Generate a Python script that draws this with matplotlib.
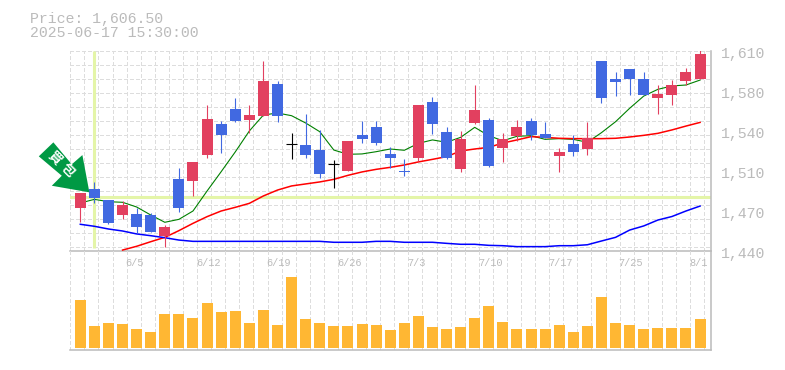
#!/usr/bin/env python

# DAILY CANDLES WITH MOVING AVERAGES AND VOLUME

import numpy as np
import matplotlib
matplotlib.use('Agg')
import matplotlib.pyplot as plt
from matplotlib.patches import Polygon
from matplotlib.transforms import IdentityTransform

plt.rcParams['font.family'] = ['Liberation Mono', 'DejaVu Sans Mono']

# CANDLES
opens = [1478.5, 1494.1, 1485.0, 1472.6, 1473.2, 1472.3, 1454.4, 1502.6, 1501.5, 1523.6,
         1549.7, 1562.4, 1553.1, 1556.7, 1583.7, 1532.4, 1531.8, 1527.5, 1515.4, 1509.7,
         1540.3, 1547.1, 1524.1, 1509.7, 1520.8, 1568.4, 1542.9, 1511.4, 1550.5, 1553.1,
         1529.3, 1539.5, 1552.2, 1541.1, 1522.5, 1532.7, 1528.4, 1603.2, 1587.9, 1596.4,
         1587.9, 1571.8, 1574.3, 1586.2, 1587.9]
closes = [1490.7, 1487.0, 1465.8, 1480.5, 1462.4, 1458.1, 1462.1, 1478.5, 1517.4, 1553.9,
          1540.5, 1552.5, 1557.3, 1586.2, 1556.7, 1532.4, 1523.3, 1507.2, 1515.4, 1535.2,
          1536.9, 1533.5, 1520.8, 1509.2, 1565.8, 1549.7, 1520.8, 1536.9, 1561.5, 1514.0,
          1536.9, 1547.1, 1540.3, 1537.8, 1525.9, 1525.9, 1537.8, 1571.8, 1585.4, 1587.9,
          1574.3, 1575.1, 1582.8, 1593.9, 1609.2]
highs = [1490.7, 1500.3, 1485.0, 1484.2, 1478.0, 1474.0, 1463.8, 1512.3, 1517.4, 1565.8,
         1552.2, 1571.8, 1565.8, 1603.2, 1586.2, 1542.0, 1558.2, 1544.5, 1519.0, 1535.2,
         1552.2, 1552.2, 1529.8, 1519.9, 1565.8, 1572.6, 1547.1, 1543.7, 1582.8, 1554.8,
         1542.0, 1553.1, 1554.8, 1551.4, 1529.3, 1540.3, 1551.4, 1603.2, 1593.9, 1596.4,
         1593.9, 1582.8, 1587.1, 1597.3, 1612.6]
lows = [1466.6, 1482.3, 1464.9, 1468.6, 1456.7, 1458.1, 1444.8, 1475.1, 1488.7, 1521.0,
        1525.3, 1551.6, 1542.0, 1556.7, 1551.6, 1519.9, 1521.0, 1503.8, 1495.3, 1509.7,
        1533.5, 1531.8, 1512.3, 1505.5, 1518.2, 1541.1, 1519.9, 1508.8, 1549.7, 1513.4,
        1517.4, 1535.2, 1536.0, 1537.8, 1508.8, 1522.5, 1523.3, 1567.8, 1573.4, 1574.3,
        1574.3, 1558.2, 1565.8, 1582.8, 1587.9]

# MOVING AVERAGES
ma_short = [1482.5, 1485.6, 1483.6, 1483.1, 1479.1, 1472.3, 1466.1, 1468.6, 1475.7, 1492.7,
            1509.1, 1525.9, 1543.7, 1557.3, 1559.0, 1556.7, 1550.5, 1543.1, 1527.5, 1523.9,
            1524.2, 1526.1, 1528.4, 1527.3, 1533.2, 1536.1, 1534.1, 1538.3, 1546.8, 1539.7,
            1535.4, 1539.2, 1539.7, 1536.6, 1537.2, 1536.6, 1534.1, 1542.3, 1551.6, 1563.0,
            1573.4, 1579.1, 1582.0, 1582.8, 1587.0]
ma_mid_start = 3
ma_mid = [1442.5, 1445.7, 1449.6, 1453.3, 1459.0, 1465.2, 1470.9, 1475.7, 1478.8, 1482.2,
          1488.5, 1493.5, 1497.0, 1498.7, 1500.4, 1502.6, 1506.0, 1508.9, 1511.1, 1512.8,
          1514.8, 1517.4, 1519.6, 1521.9, 1526.7, 1528.4, 1529.8, 1533.5, 1536.1, 1538.9,
          1538.3, 1537.5, 1537.2, 1537.2, 1537.2, 1537.5, 1538.6, 1540.0, 1541.7, 1544.6,
          1547.9, 1551.0]
ma_long = [1464.4, 1462.7, 1460.4, 1458.7, 1456.2, 1454.7, 1453.0, 1451.0, 1449.9, 1449.9,
           1449.9, 1449.9, 1449.9, 1449.9, 1449.9, 1449.9, 1449.9, 1449.9, 1449.1, 1449.1,
           1449.1, 1449.9, 1449.9, 1449.1, 1449.1, 1449.1, 1448.2, 1447.4, 1447.4, 1446.5,
           1446.2, 1445.4, 1445.4, 1445.4, 1446.2, 1446.2, 1447.0, 1450.2, 1453.3, 1459.5,
           1463.0, 1468.0, 1471.0, 1475.7, 1479.9]

# VOLUME
volumes = [48000, 22000, 25000, 24000, 19000, 16000, 34000, 34000, 30000, 45000,
           36000, 37000, 25000, 38000, 23000, 71000, 29000, 25000, 22000, 22000,
           24000, 23000, 18000, 25000, 32000, 21000, 19000, 21000, 30000, 42000,
           26000, 19000, 19000, 19000, 23000, 16000, 22000, 51000, 25000, 23000,
           19000, 20000, 20000, 20000, 29000]

# AXIS LABELS
price_ticks = [1610, 1576, 1542, 1508, 1474, 1440]
price_labels = ['1,610', '1,580', '1,540', '1,510', '1,470', '1,440']
date_ticks = [4, 9, 14, 19, 24, 29, 34, 39, 44]
date_labels = ['6/5', '6/12', '6/19', '6/26', '7/3', '7/10', '7/17', '7/25', '8/1']

# CROSSHAIR
cross_idx = 1
cross_price = 1487.2

RED = '#e2405f'
BLUE = '#4169e1'
GREY = '#bbbbbb'
GRID = '#dddddd'
CROSS = '#e4f5a8'

W, H = 785.0, 370.0
xlim = (-0.71, 44.74)
ylim = (1441.95, 1611.7)
vol_lim = (-2000, 97300)
bar_w = 11/14.09

fig = plt.figure(figsize=(7.85, 3.7), dpi=100)
ax = fig.add_axes([70.3/W, 1-250.7/H, 640.2/W, 199.7/H])
ax_vol = fig.add_axes([70.3/W, 1-350/H, 640.2/W, 99.3/H])

grid_x = np.arange(xlim[0], 45.5, 1.0)
grid_y = np.arange(ylim[1], ylim[0], -11.92)
dash = (0, (3, 2.5))

for a in (ax, ax_vol):
    a.set_xlim(*xlim)
    a.set_xticks([])
    a.set_yticks([])
    a.set_facecolor('none')
    for side in ('left', 'top'):
        a.spines[side].set_visible(False)
    for side in ('right', 'bottom'):
        a.spines[side].set_color(GREY)
        a.spines[side].set_linewidth(1.1)
ax.set_ylim(*ylim)
ax_vol.set_ylim(*vol_lim)

# GRID
ax.vlines(grid_x, ylim[0], ylim[1], color=GRID, lw=0.72, linestyles=dash, antialiased=False, zorder=1)
ax.hlines(grid_y, xlim[0], xlim[1], color=GRID, lw=0.72, linestyles=dash, antialiased=False, zorder=1)
ax_vol.vlines(grid_x, vol_lim[0], vol_lim[1], color=GRID, lw=0.72, linestyles=dash, antialiased=False, zorder=1)

# CROSSHAIR
ax.axhline(cross_price, color=CROSS, lw=2.2, zorder=2)
ax.vlines(cross_idx, 1444.2, ylim[1], color=CROSS, lw=2.2, zorder=2)

# MOVING AVERAGES
x = np.arange(len(opens))
ax.plot(x, ma_short, color='#008000', lw=0.8, zorder=3)
ax.plot(x[ma_mid_start:], ma_mid, color='#ff0000', lw=1.1, zorder=3)
ax.plot(x, ma_long, color='#0000ff', lw=1.1, zorder=3)

# CANDLES
for i in x:
    o, c, h, l = opens[i], closes[i], highs[i], lows[i]
    if c > o:
        col = RED
    elif c < o:
        col = BLUE
    else:
        col = 'black'
    ax.vlines(i, l, h, color=col, lw=0.8, zorder=4)
    if c == o:
        ax.hlines(o, i-bar_w/2, i+bar_w/2, color=col, lw=0.8, zorder=4)
    else:
        ax.bar(i, abs(c-o), bottom=min(o, c), width=bar_w, color=col, linewidth=0, zorder=5)

# VOLUME
ax_vol.bar(x, volumes, width=bar_w, color='#ffb733', linewidth=0, zorder=3)

# LABELS
for p, lab in zip(price_ticks, price_labels):
    ax.text(45.45, p-0.8, lab, color=GREY, fontsize=10.7, ha='left', va='center', clip_on=False)
for d, lab in zip(date_ticks, date_labels):
    ax_vol.text(d-0.78, 85000, lab, color=GREY, fontsize=7.4, ha='left', va='center', zorder=2)

fig.text(30/W, 1-23/H, 'Price: 1,606.50', color=GREY, fontsize=10.7, va='baseline')
fig.text(30/W, 1-37.3/H, '2025-06-17 15:30:00', color=GREY, fontsize=10.7, va='baseline')

# SIGNAL ARROW, PIXEL OFFSETS FROM THE CANDLE IT POINTS AT
tx, ty = ax.transData.transform((cross_idx, opens[cross_idx]))
shape = np.array([[-36, 50], [-50.6, 36], [-27.6, 16.6], [-37.6, 6.6], [0, 0],
                  [-7, 37.3], [-17.6, 28]]) + [tx-5, ty-3]
fig.add_artist(Polygon(shape, closed=True, transform=IdentityTransform(),
                       facecolor='#009944', edgecolor='none', zorder=10))
for ch, dx, dy in [(u'\u8cb7', -34.6, 34), (u'\u5305', -22, 22.3)]:
    fig.text((tx-5+dx)/W, (ty-3+dy)/H, ch, color='white', fontsize=9.4, fontweight='bold',
             family=['Noto Sans CJK JP', 'DejaVu Sans'], rotation=-45, rotation_mode='anchor',
             ha='center', va='center', zorder=11)

fig.savefig('out.png', dpi=100)
